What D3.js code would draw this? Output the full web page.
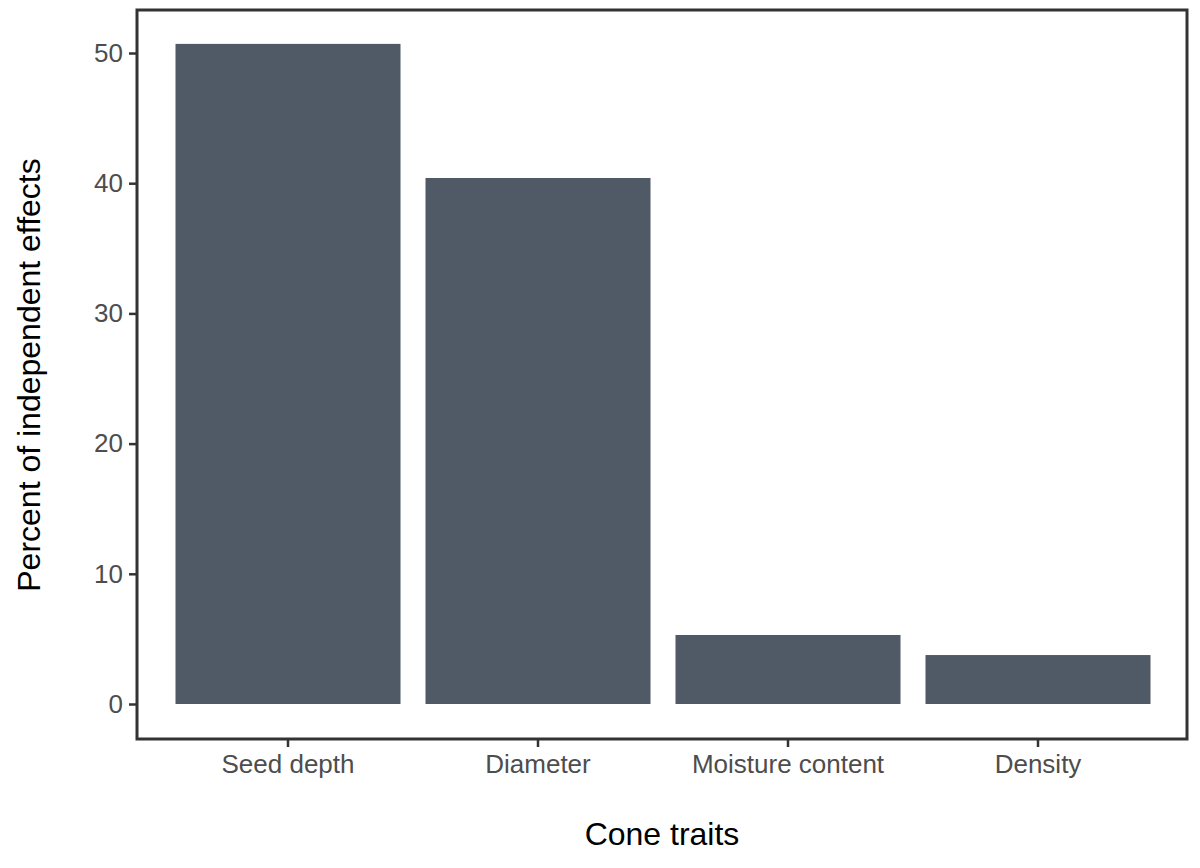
<!DOCTYPE html>
<html><head><meta charset="utf-8">
<script src="https://cdn.jsdelivr.net/npm/d3@7"></script>
<style>body{margin:0;background:#fff}text{font-family:Arial,"Liberation Sans",sans-serif}</style>
</head><body><svg id="c" width="1200" height="868"></svg>
<script>
const categories = ["Seed depth","Diameter","Moisture content","Density"];
const values = [50.7, 40.4, 5.3, 3.76];
const yTicks = [0,10,20,30,40,50];

const svg = d3.select("#c");
const L=137,R=1187,T=10,B=739;
const x = d3.scaleBand().domain(categories).range([163,1163]).paddingInner(0.1).paddingOuter(0.05);
const y = d3.scaleLinear().domain([0,50]).range([704,53]);

svg.selectAll("rect.bar").data(values).join("rect")
  .attr("x",(d,i)=>x(categories[i])).attr("width",x.bandwidth())
  .attr("y",d=>y(d)).attr("height",d=>y(0)-y(d)).attr("fill","#505a66");

svg.append("rect").attr("x",L).attr("y",T).attr("width",R-L).attr("height",B-T)
  .attr("fill","none").attr("stroke","#333").attr("stroke-width",3);

const ya = svg.append("g").attr("transform",`translate(${L},0)`)
  .call(d3.axisLeft(y).tickValues(yTicks).tickSize(8).tickPadding(6));
const xa = svg.append("g").attr("transform",`translate(0,${B})`)
  .call(d3.axisBottom(x).tickSize(8).tickPadding(8));
[ya,xa].forEach(a=>{a.select(".domain").remove();
  a.selectAll(".tick line").attr("stroke","#333").attr("stroke-width",2.5);
  a.selectAll(".tick text").attr("fill","#4d4d4d").style("font-size","26px");});

svg.append("text").attr("x",662).attr("y",845).attr("text-anchor","middle")
  .style("font-size","32px").attr("fill","#000").text("Cone traits");
svg.append("text").attr("transform","translate(40,375) rotate(-90)").attr("text-anchor","middle")
  .style("font-size","32px").attr("fill","#000").text("Percent of independent effects");
</script></body></html>
